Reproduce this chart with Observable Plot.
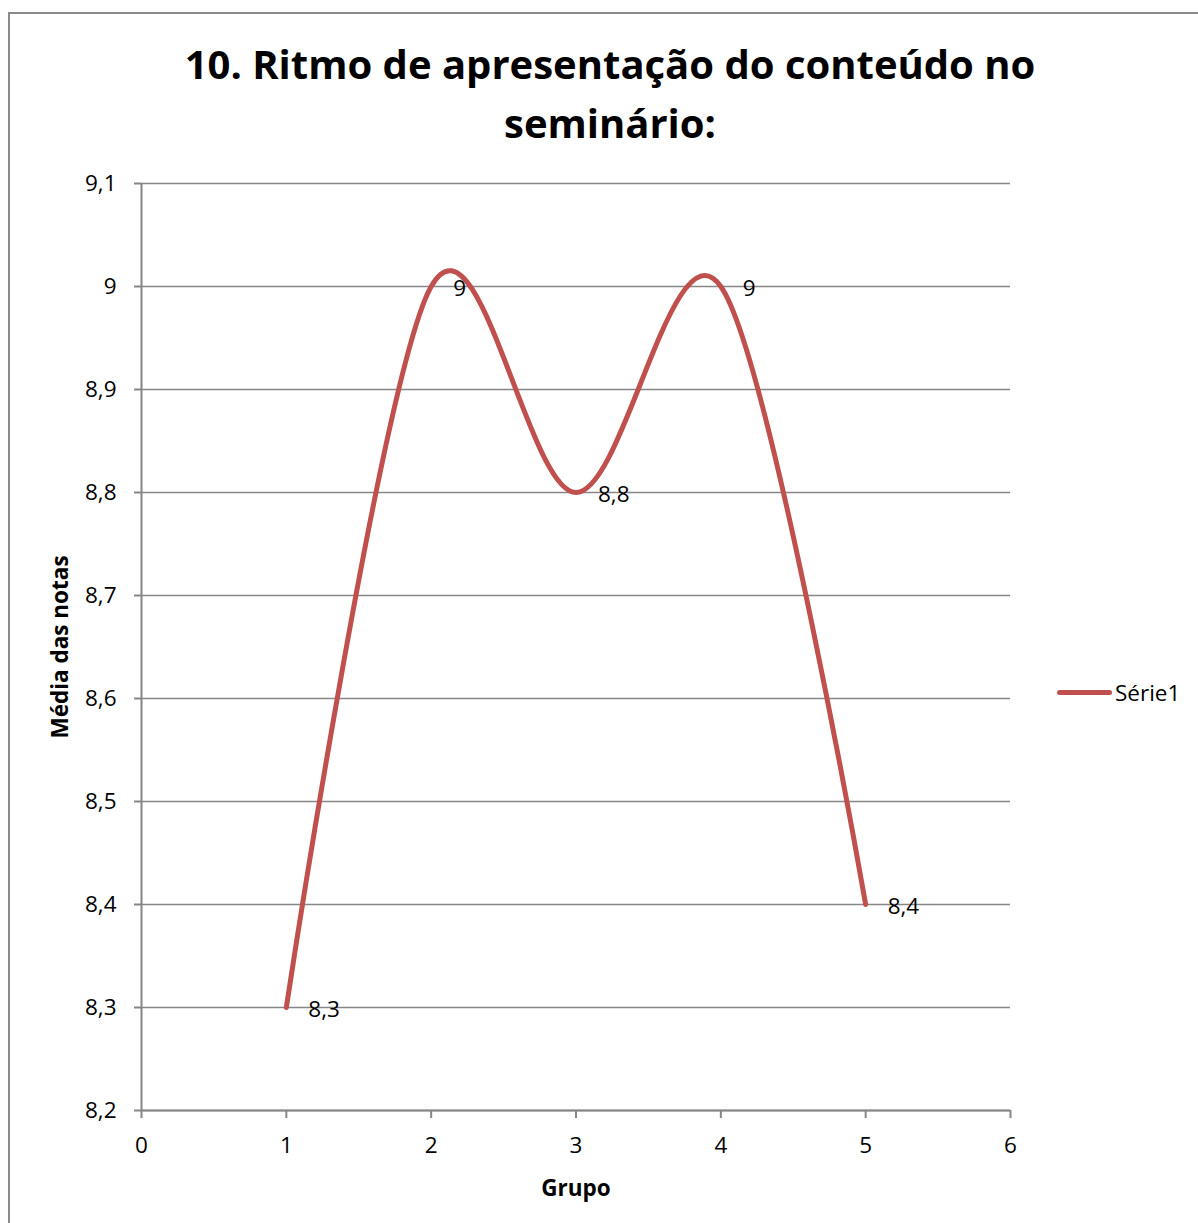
<!DOCTYPE html>
<html>
<head>
<meta charset="utf-8">
<script src="https://cdn.jsdelivr.net/npm/d3@7"></script>
<script src="https://cdn.jsdelivr.net/npm/@observablehq/plot@0.6"></script>
<style>
  html, body { margin: 0; padding: 0; background: #fff; overflow: hidden; }
  #wrap { position: relative; width: 1198px; height: 1223px; font-family: "Open Sans", sans-serif; }
  #border { position: absolute; left: 8px; top: 12px; width: 1400px; height: 1400px; border: 2px solid #8a8a8a; box-sizing: border-box; }
  #title { position: absolute; left: 110px; width: 1000px; top: 34px; text-align: center; font-weight: bold; font-size: 40px; line-height: 59px; color: #000; }
  #legend { position: absolute; left: 1057px; top: 677px; display: flex; align-items: center; font-size: 22.5px; color: #000; }
  #legend .sw { width: 55px; height: 5px; background: #C0504D; border-radius: 3px; margin-right: 3px; }
  #chart { position: absolute; left: 0; top: 0; }
</style>
</head>
<body>
<div id="wrap">
  <div id="border"></div>
  <div id="chart"></div>
  <div id="title">10. Ritmo de apresentação do conteúdo no<br>seminário:</div>
  <div id="legend"><div class="sw"></div><span>Série1</span></div>
</div>
<script>
const grupos = [1, 2, 3, 4, 5];
const medias = [8.3, 9, 8.8, 9, 8.4];
const xTicks = [0, 1, 2, 3, 4, 5, 6];
const yTicks = [8.2, 8.3, 8.4, 8.5, 8.6, 8.7, 8.8, 8.9, 9, 9.1];
const xTitle = "Grupo";
const yTitle = "Média das notas";

const data = grupos.map((g, i) => ({grupo: g, media: medias[i]}));
const fmt = d => String(+d.toFixed(1)).replace(".", ",");
const grey = "#868686";

const plot = Plot.plot({
  width: 1198,
  height: 1223,
  marginLeft: 141,
  marginRight: 188,
  marginTop: 183,
  marginBottom: 113,
  style: {fontFamily: "'Open Sans', sans-serif", fontSize: "22.5px", color: "#000", background: "transparent"},
  x: {domain: [0, 6]},
  y: {domain: [8.2, 9.1]},
  marks: [
    Plot.ruleY(yTicks, {stroke: grey, strokeWidth: 1.5}),
    Plot.ruleX([0], {stroke: grey, strokeWidth: 2}),
    Plot.ruleY([8.2], {stroke: grey, strokeWidth: 2}),
    Plot.axisY({ticks: yTicks, tickSize: 7, tickPadding: 18, tickFormat: fmt, stroke: grey, strokeWidth: 2, fill: "#000", label: null}),
    Plot.axisX({ticks: xTicks, tickSize: 8, tickPadding: 19, tickFormat: fmt, stroke: grey, strokeWidth: 2, fill: "#000", label: null}),
    Plot.line(data, {x: "grupo", y: "media", curve: "cardinal", stroke: "#C0504D", strokeWidth: 5}),
    Plot.text(data, {x: "grupo", y: "media", text: d => fmt(d.media), textAnchor: "start", dx: 22, dy: 2, fill: "#000", fontSize: 22.5}),
    Plot.text([xTitle], {frameAnchor: "bottom", text: d => d, dy: 85, textAnchor: "middle", fontWeight: "bold", fontSize: 22.5, fill: "#000"}),
    Plot.text([yTitle], {frameAnchor: "left", text: d => d, dx: -81, rotate: -90, textAnchor: "middle", fontWeight: "bold", fontSize: 22.5, fill: "#000"})
  ]
});
document.getElementById("chart").appendChild(plot);
</script>
</body>
</html>
